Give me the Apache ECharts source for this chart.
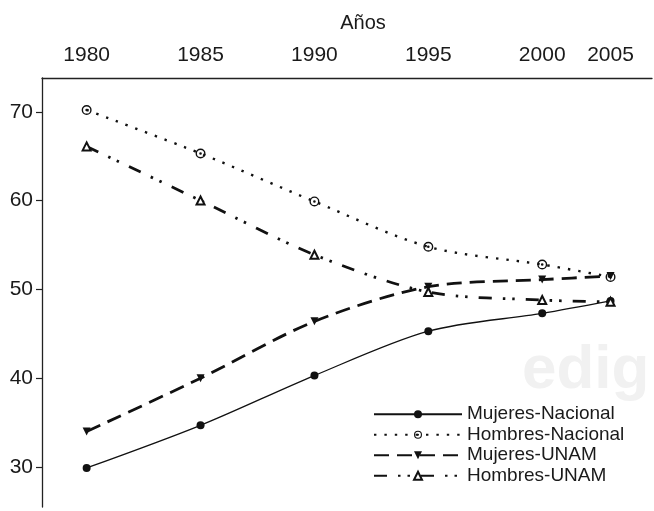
<!DOCTYPE html>
<html>
<head>
<meta charset="utf-8">
<script src="https://cdn.jsdelivr.net/npm/echarts@6/dist/echarts.min.js"></script>
<style>html,body{margin:0;padding:0;background:#fff}#c{width:654px;height:511px}</style>
</head>
<body>
<div id="c"></div>
<script>
// plotted positions of the observation years (last point sits at ~2003 on the axis)
const yearPositions = [1980, 1985, 1990, 1995, 2000, 2003];
const yearLabels = ['1980', '1985', '1990', '1995', '2000', '2005'];
const yTicks = [30, 40, 50, 60, 70];

const seriesNames = ['Mujeres-Nacional', 'Hombres-Nacional', 'Mujeres-UNAM', 'Hombres-UNAM'];
const mujeresNacional = [29.9, 34.7, 40.3, 45.3, 47.3, 48.7];
const hombresNacional = [70.2, 65.3, 59.9, 54.8, 52.8, 51.4];
const mujeresUNAM = [34.0, 40.0, 46.4, 50.3, 51.1, 51.5];
const hombresUNAM = [66.1, 60.0, 53.9, 49.7, 48.8, 48.6];

const pair = vals => vals.map((v, i) => [yearPositions[i], v]);
const FONT = 'Liberation Sans, Arial, sans-serif';
const INK = '#1a1a1a';
const bullseye = 'path://M0,-5A5,5 0 1,1 0,5A5,5 0 1,1 0,-5Z M0,-3.6A3.6,3.6 0 1,0 0,3.6A3.6,3.6 0 1,0 0,-3.6Z M0,-1.3A1.3,1.3 0 1,1 0,1.3A1.3,1.3 0 1,1 0,-1.3Z';

const chart = echarts.init(document.getElementById('c'), null, {renderer: 'canvas'});
chart.setOption({
  animation: false,
  backgroundColor: '#ffffff',
  textStyle: {fontFamily: FONT},
  graphic: [{
    type: 'text', left: 522, top: 340, z: -10, silent: true,
    style: {text: 'edig', fill: '#f1f1f1', font: 'bold 62px Liberation Sans, Arial, sans-serif'}
  }],
  grid: {left: 42, right: 2, top: 78, bottom: 4, containLabel: false},
  xAxis: {
    type: 'value', position: 'top', min: 1978.04, max: 2004.82,
    name: 'Años', nameLocation: 'middle', nameGap: 45,
    nameTextStyle: {fontSize: 20, color: INK, fontFamily: FONT, padding: [0, 0, 0, 32]},
    axisLine: {show: true, lineStyle: {color: '#222', width: 1.3}},
    axisTick: {show: false},
    splitLine: {show: false},
    axisLabel: {
      customValues: yearPositions, margin: 12, fontSize: 21, color: INK, fontFamily: FONT,
      formatter: v => { const i = yearPositions.indexOf(Math.round(v)); return i >= 0 ? yearLabels[i] : ''; }
    }
  },
  yAxis: {
    type: 'value', min: 25.5, max: 73.8,
    axisLine: {show: true, lineStyle: {color: '#222', width: 1.3}},
    axisTick: {show: true, customValues: yTicks, length: 6, lineStyle: {color: '#222', width: 1.2}},
    splitLine: {show: false},
    axisLabel: {customValues: yTicks, margin: 9, fontSize: 21, color: INK, fontFamily: FONT}
  },
  legend: {
    orient: 'vertical', left: 368, top: 399,
    itemWidth: 88, itemHeight: 10, itemGap: 0,
    data: seriesNames,
    textStyle: {fontSize: 19, color: INK, fontFamily: FONT, padding: [0, 0, 0, 0], lineHeight: 20.5}
  },
  series: [
    {
      name: seriesNames[0], type: 'line', data: pair(mujeresNacional), smooth: 0.3,
      symbol: 'circle', symbolSize: 8,
      lineStyle: {color: '#111', width: 1.3, type: 'solid'},
      itemStyle: {color: '#111'}
    },
    {
      name: seriesNames[1], type: 'line', data: pair(hombresNacional), smooth: 0.3,
      symbol: bullseye, symbolSize: 10,
      lineStyle: {color: '#111', width: 2.4, type: [2.4, 8], cap: 'butt'},
      itemStyle: {color: '#111'}
    },
    {
      name: seriesNames[2], type: 'line', data: pair(mujeresUNAM), smooth: 0.3,
      symbol: 'triangle', symbolRotate: 180, symbolSize: 8,
      lineStyle: {color: '#111', width: 2.8, type: [15, 8]},
      itemStyle: {color: '#111'}
    },
    {
      name: seriesNames[3], type: 'line', data: pair(hombresUNAM), smooth: 0.3,
      symbol: 'emptyTriangle', symbolSize: 8,
      lineStyle: {color: '#111', width: 2.8, type: [13, 11, 2.5, 7, 2.5, 11]},
      itemStyle: {color: '#111', borderWidth: 1.3}
    }
  ]
});
</script>
</body>
</html>
